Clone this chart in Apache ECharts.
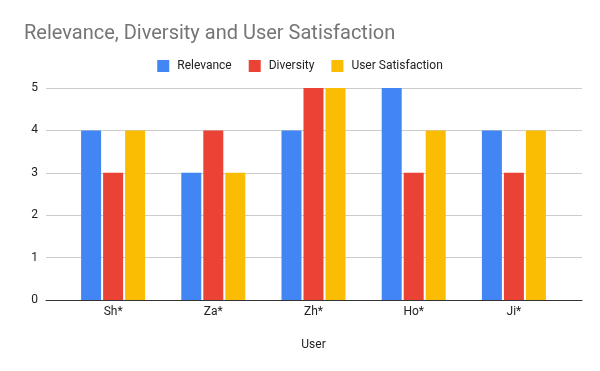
<!DOCTYPE html>
<html><head><meta charset="utf-8">
<script src="https://cdn.jsdelivr.net/npm/echarts@6/dist/echarts.min.js"></script>
<style>html,body{margin:0;padding:0;background:#fff}#c{width:600px;height:371px}</style>
</head><body><div id="c"></div>
<script>
const categories = ['Sh*', 'Za*', 'Zh*', 'Ho*', 'Ji*'];
const relevance = [4, 3, 4, 5, 4];
const diversity = [3, 4, 5, 3, 3];
const satisfaction = [4, 3, 5, 4, 4];
const yTicks = [0, 1, 2, 3, 4, 5];

const font = 'Roboto, Arial, sans-serif';
const chart = echarts.init(document.getElementById('c'), null, {renderer: 'canvas'});
chart.setOption({
  animation: false,
  backgroundColor: '#fff',
  title: {
    text: 'Relevance, Diversity and User Satisfaction',
    left: 19, top: 19,
    textStyle: {fontFamily: font, fontSize: 20, fontWeight: 'normal', color: '#757575'}
  },
  legend: {
    top: 55, left: 'center',
    itemWidth: 12, itemHeight: 12, itemGap: 17,
    icon: 'rect',
    textStyle: {fontFamily: font, fontSize: 12, color: '#222', padding: [0, 0, 0, 3]},
    data: ['Relevance', 'Diversity', 'User Satisfaction']
  },
  grid: [
    {left: 63, right: 36, top: 88, bottom: 71},
    {left: 46, right: 18, top: 88, bottom: 71}
  ],
  xAxis: [
    {
      type: 'category', gridIndex: 0, data: categories,
      axisLine: {show: false}, axisTick: {show: false},
      axisLabel: {fontFamily: font, fontSize: 12, color: '#222', margin: 6},
      name: 'User', nameLocation: 'middle', nameGap: 39,
      nameTextStyle: {fontFamily: font, fontSize: 12, color: '#222'}
    },
    {
      type: 'value', gridIndex: 1, min: 0, max: 1,
      axisLine: {show: true, lineStyle: {color: '#333', width: 1}},
      axisTick: {show: false}, axisLabel: {show: false}, splitLine: {show: false}
    }
  ],
  yAxis: [
    {type: 'value', gridIndex: 0, min: 0, max: 5, interval: 1, show: false},
    {
      type: 'value', gridIndex: 1, min: 0, max: 5, interval: 1,
      axisLine: {show: false}, axisTick: {show: false},
      axisLabel: {fontFamily: font, fontSize: 12, color: '#222', margin: 8,
        formatter: v => yTicks.includes(v) ? String(v) : ''},
      splitLine: {lineStyle: {color: '#ccc', width: 1}}
    }
  ],
  series: [
    {name: 'Relevance', type: 'bar', data: relevance, barWidth: 20, barGap: '10%',
     itemStyle: {color: '#4285F4'}},
    {name: 'Diversity', type: 'bar', data: diversity, barWidth: 20, barGap: '10%',
     itemStyle: {color: '#EA4335'}},
    {name: 'User Satisfaction', type: 'bar', data: satisfaction, barWidth: 20, barGap: '10%',
     itemStyle: {color: '#FBBC04'}}
  ]
});
</script></body></html>
